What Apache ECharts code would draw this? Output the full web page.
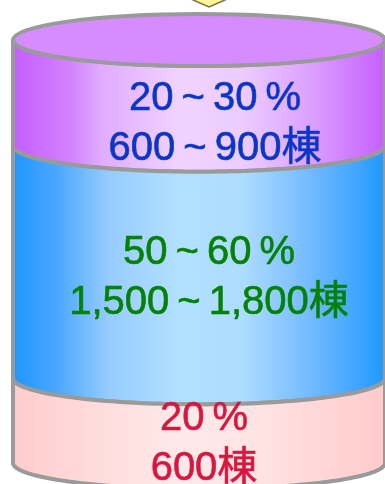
<!DOCTYPE html>
<html>
<head>
<meta charset="utf-8">
<script src="https://cdn.jsdelivr.net/npm/echarts@6/dist/echarts.min.js"></script>
<style>
  html, body { margin: 0; padding: 0; background: #ffffff; }
  #chart { width: 385px; height: 484px; }
</style>
</head>
<body>
<div id="chart"></div>
<script>
// Building stock split into three bands, stacked top to bottom in the cylinder.
const segments   = ['上層', '中層', '下層'];
const shareLow   = [20, 50, 20];      // %
const shareHigh  = [30, 60, 20];      // %
const bldLow     = [600, 1500, 600];  // 棟
const bldHigh    = [900, 1800, 600];  // 棟

// Visual styling for each band
const sideStops = [
  [[0, '#c45cff'], [0.16, '#d283ff'], [0.24, '#e0acff'], [0.45, '#f1d3ff'], [0.62, '#eccbff'], [0.8, '#dba0ff'], [1, '#c45dff']],
  [[0, '#1c97ff'], [0.12, '#4aa6ff'], [0.26, '#96ccff'], [0.45, '#b2e0ff'], [0.62, '#acdcff'], [0.8, '#72b9ff'], [1, '#1e98ff']],
  [[0, '#ffcbcb'], [0.2, '#ffdada'], [0.45, '#ffe9e9'], [0.65, '#ffe4e4'], [1, '#ffcaca']]
];
const textColors = ['#0a36c6', '#058205', '#d8163f'];
const labelShift = [[16, 5], [10, -10], [5, -3]];
const topCapColor = '#d68cff';
const edgeColor = '#9a9a9a';
const RY = 26;

function fmt(n) { return n.toLocaleString('en-US'); }
function rangeText(lo, hi, unit) {
  return lo === hi ? fmt(lo) + unit : fmt(lo) + '\u2009~\u2009' + fmt(hi) + unit;
}

// Stack the bands: each item carries [category, start, end]
const mids = shareLow.map((lo, i) => (lo + shareHigh[i]) / 2);
let acc = 0;
const data = mids.map((v, i) => {
  const item = { value: [0, acc, acc + v], idx: i };
  acc += v;
  return item;
});

function arcPoints(cx, cy, rx, ry, fromDeg, toDeg, n) {
  const pts = [];
  for (let k = 0; k <= n; k++) {
    const a = (fromDeg + (toDeg - fromDeg) * k / n) * Math.PI / 180;
    pts.push([cx + rx * Math.cos(a), cy + ry * Math.sin(a)]);
  }
  return pts;
}

function renderItem(params, api) {
  const i = params.dataIndex;
  const top = api.coord([api.value(0), api.value(1)]);
  const bot = api.coord([api.value(0), api.value(2)]);
  const w = api.size([1, 0])[0];
  const cx = top[0], rx = w / 2;
  const yT = top[1], yB = bot[1];

  // Side face: left edge down, front arc of the lower rim, right edge up, front arc of the upper rim back
  const pts = [[cx - rx, yT]]
    .concat(arcPoints(cx, yB, rx, RY, 180, 0, 90))
    .concat(arcPoints(cx, yT, rx, RY, 0, 180, 90));

  const children = [{
    type: 'polygon',
    shape: { points: pts },
    style: {
      fill: new echarts.graphic.LinearGradient(0, 0, 1, 0,
        sideStops[i].map(s => ({ offset: s[0], color: s[1] }))),
      stroke: edgeColor,
      lineWidth: 4,
      lineJoin: 'round'
    }
  }];

  if (i === 0) {
    children.push({
      type: 'ellipse',
      shape: { cx: cx, cy: yT, rx: rx, ry: RY },
      style: { fill: topCapColor, stroke: edgeColor, lineWidth: 4 }
    });
  }

  const label = rangeText(shareLow[i], shareHigh[i], '\u2009%') + '\n' +
                rangeText(bldLow[i], bldHigh[i], '棟');
  children.push({
    type: 'text',
    x: cx + labelShift[i][0],
    y: (yT + yB) / 2 + RY + labelShift[i][1],
    style: {
      text: label,
      fill: textColors[i],
      stroke: textColors[i],
      lineWidth: 0.6,
      font: '40px "Liberation Sans", "Noto Sans CJK JP", sans-serif',
      lineHeight: 50,
      align: 'center',
      verticalAlign: 'middle'
    }
  });

  return { type: 'group', children: children };
}

const chart = echarts.init(document.getElementById('chart'), null, { renderer: 'canvas' });
chart.setOption({
  animation: false,
  grid: { left: 13, right: -10, top: 40, bottom: 21 },
  xAxis: { type: 'category', data: ['棟数'], show: false },
  yAxis: { type: 'value', min: 0, max: 100, inverse: true, show: false },
  graphic: [{
    type: 'polygon',
    shape: { points: [[184, -4], [209, 7], [234, -4]] },
    style: { fill: '#fff49a', stroke: '#7d7040', lineWidth: 1.5 },
    z: 10
  }],
  series: [{
    type: 'custom',
    coordinateSystem: 'cartesian2d',
    renderItem: renderItem,
    data: data,
    clip: false
  }]
});
</script>
</body>
</html>
